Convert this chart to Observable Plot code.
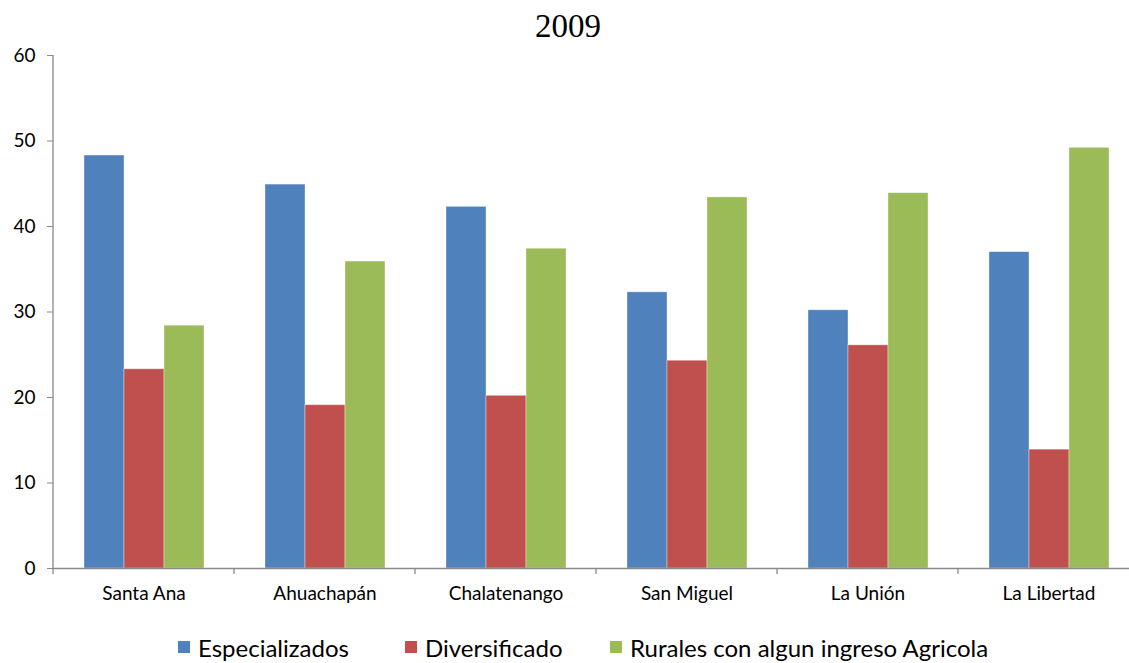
<!DOCTYPE html>
<html>
<head>
<meta charset="utf-8">
<script src="https://cdn.jsdelivr.net/npm/d3@7"></script>
<script src="https://cdn.jsdelivr.net/npm/@observablehq/plot@0.6"></script>
<style>
  html, body { margin: 0; padding: 0; background: #fff; overflow: hidden; }
  #wrap { position: relative; width: 1129px; height: 663px; }
  #title { position: absolute; left: 468px; width: 200px; top: 10px; text-align: center;
    font-family: "Liberation Serif", serif; font-size: 33px; line-height: 33px; color: #000; }
  #chart { position: absolute; left: 0; top: 0; }
  #legend { position: absolute; top: 631px; left: 0; width: 1129px; height: 32px;
    font-family: Lato, sans-serif; font-size: 24px; color: #000; }
  .item { position: absolute; top: 0; display: flex; align-items: center; height: 32px; }
  .sw { width: 12px; height: 12px; margin-right: 8px; }
  g[aria-label="y-axis tick"] path { stroke: #898989; }
</style>
</head>
<body>
<div id="wrap">
  <div id="chart"></div>
  <div id="title">2009</div>
  <div id="legend"></div>
</div>
<script>
const categories = ["Santa Ana", "Ahuachapán", "Chalatenango", "San Miguel", "La Unión", "La Libertad"];
const series = ["Especializados", "Diversificado", "Rurales con algun ingreso Agricola"];
const especializados = [48.3, 44.9, 42.3, 32.3, 30.2, 37.0];
const diversificado = [23.3, 19.1, 20.2, 24.3, 26.1, 13.9];
const rurales = [28.4, 35.9, 37.4, 43.4, 43.9, 49.2];
const yTicks = [0, 10, 20, 30, 40, 50, 60];
const colors = ["#4F81BD", "#C0504D", "#9BBB59"];

const seriesValues = [especializados, diversificado, rurales];
const table = [];
categories.forEach((c, i) => {
  series.forEach((s, j) => table.push({cat: c, series: s, value: seriesValues[j][i]}));
});

const plot = Plot.plot({
  width: 1129,
  height: 620,
  marginTop: 55,
  marginBottom: 52,
  marginLeft: 51,
  marginRight: -12,
  style: {fontFamily: "Lato, sans-serif", fontSize: "19px", color: "#000", background: "transparent"},
  fx: {domain: categories, padding: 0, label: null, axis: "bottom", tickSize: 0, tickPadding: 18},
  x: {domain: series, paddingInner: 0, paddingOuter: 0.75, axis: null},
  y: {domain: [0, 60], ticks: yTicks, tickSize: 6, tickPadding: 12, label: null, grid: false},
  color: {domain: series, range: colors},
  marks: [
    Plot.barY(table, {fx: "cat", x: "series", y: "value", fill: "series", stroke: "#fff", strokeOpacity: 0.45, strokeWidth: 0.8}),
    Plot.ruleY([0], {stroke: "#898989", strokeWidth: 1.3})
  ]
});
document.getElementById("chart").appendChild(plot);

// axis line and category-boundary ticks, placed with the plot's own scales
const fx = plot.scale("fx");
const y = plot.scale("y");
const svg = d3.select(plot);
const g = svg.append("g").attr("stroke", "#898989").attr("stroke-width", 1.3);
const y0 = y.apply(0), y60 = y.apply(60);
const xLeft = fx.apply(categories[0]);
g.append("line").attr("x1", xLeft).attr("x2", xLeft).attr("y1", y0).attr("y2", y60);
const bounds = categories.map(c => fx.apply(c)).concat([fx.apply(categories[categories.length - 1]) + fx.bandwidth]);
bounds.forEach(b => {
  g.append("line").attr("x1", b).attr("x2", b).attr("y1", y0).attr("y2", y0 + 6);
});

// legend
const legendLefts = [178, 405, 610];
const legend = document.getElementById("legend");
series.forEach((s, i) => {
  const it = document.createElement("div");
  it.className = "item";
  it.style.left = legendLefts[i] + "px";
  it.innerHTML = `<div class="sw" style="background:${colors[i]}"></div><span>${s}</span>`;
  legend.appendChild(it);
});
</script>
</body>
</html>
